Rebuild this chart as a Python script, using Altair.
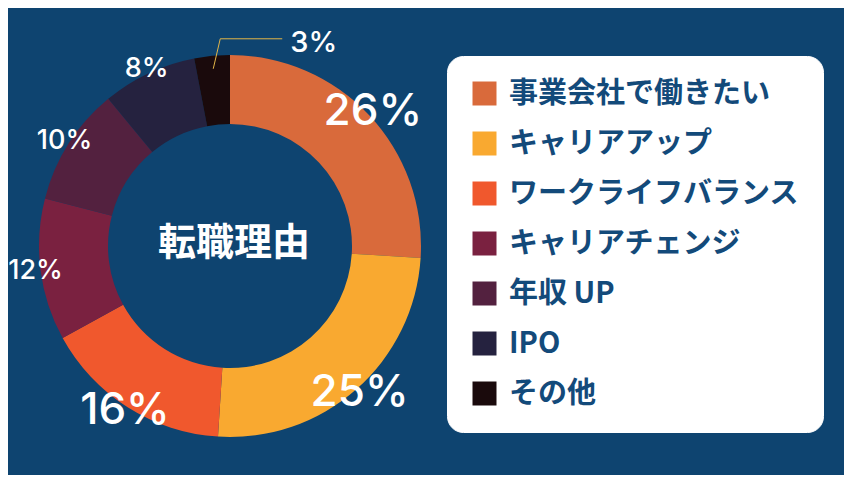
import altair as alt
import pandas as pd
import numpy as np

# ---- data ----
categories = ["事業会社で働きたい", "キャリアアップ", "ワークライフバランス",
              "キャリアチェンジ", "年収 UP", "IPO", "その他"]
values = [26, 25, 16, 12, 10, 8, 3]
labels = ["26%", "25%", "16%", "12%", "10%", "8%", "3%"]
colors = ["#D96A3B", "#F9A930", "#F0582D", "#7A2140", "#53213F", "#25223F", "#1A0A0C"]
center_title = "転職理由"

# ---- layout ----
BG = "#0E4470"
W, H = 836, 467
CX, CY = 219, 238
R_OUT, R_IN = 191, 122

df = pd.DataFrame({"category": categories, "value": values, "label": labels,
                   "o": list(range(len(values)))})

theta = alt.Theta("value:Q", stack=True)
order = alt.Order("o:Q")

color = alt.Color(
    "category:N",
    scale=alt.Scale(domain=categories, range=colors),
    legend=alt.Legend(orient="none", legendX=436, legendY=48, title=None),
)

base = alt.Chart(df)

arcs = base.mark_arc(outerRadius=R_OUT, innerRadius=R_IN).encode(
    theta=theta, order=order, color=color,
    x=alt.value(CX), y=alt.value(CY),
)

pct = base.transform_calculate(
    disp="datum.value > 5 ? datum.label : ''"
).mark_text(radius=196, font="Inter", fontWeight=500, color="white",
            baseline="middle", align="center").encode(
    theta=theta, order=order,
    text="disp:N",
    size=alt.condition("datum.value >= 15", alt.value(44), alt.value(27)),
    x=alt.value(CX), y=alt.value(CY),
)

# leader line for the smallest slice
total = sum(values)
mid = (sum(values[:-1]) + values[-1] / 2) / total * 2 * np.pi
p1 = (CX + 178 * np.sin(mid), CY - 178 * np.cos(mid))
p2 = (p1[0] + 7, p1[1] - 30)
p3 = (p2[0] + 62, p2[1])
lead = pd.DataFrame({"x": [p1[0], p2[0], p3[0]], "y": [p1[1], p2[1], p3[1]], "k": [0, 1, 2]})
leader = alt.Chart(lead).mark_line(color="#E2B548", strokeWidth=1).encode(
    x=alt.X("x:Q", scale=None), y=alt.Y("y:Q", scale=None), order="k:Q"
)
small_lab = pd.DataFrame({"x": [p3[0] + 8], "y": [p3[1]], "t": [labels[-1]]})
small_txt = alt.Chart(small_lab).mark_text(
    font="Inter", fontWeight=500, fontSize=29, color="white", align="left",
    baseline="middle", dy=4
).encode(x=alt.X("x:Q", scale=None), y=alt.Y("y:Q", scale=None), text="t:N")

center = alt.Chart(pd.DataFrame({"t": [center_title]})).mark_text(
    font="Noto Sans CJK JP", fontWeight="bold", fontSize=38, color="white",
    align="center", baseline="middle"
).encode(text="t:N", x=alt.value(CX + 4), y=alt.value(CY - 2))

chart = alt.layer(arcs, pct, leader, small_txt, center).properties(
    width=W, height=H, background=BG, padding=0,
    autosize=alt.AutoSizeParams(type="fit", contains="padding"),
).configure_view(stroke=None).configure_legend(
    fillColor="white", cornerRadius=16, padding=23, strokeColor="white",
    symbolType="square", symbolSize=576, symbolStrokeWidth=0, symbolOpacity=1,
    labelFontSize=29, labelFont="Noto Sans CJK JP", labelFontWeight="bold",
    labelColor="#134A7A", labelOffset=10, rowPadding=20, labelLimit=500,
)

chart.save("out.html", embed_options={"renderer": "svg", "actions": False})
